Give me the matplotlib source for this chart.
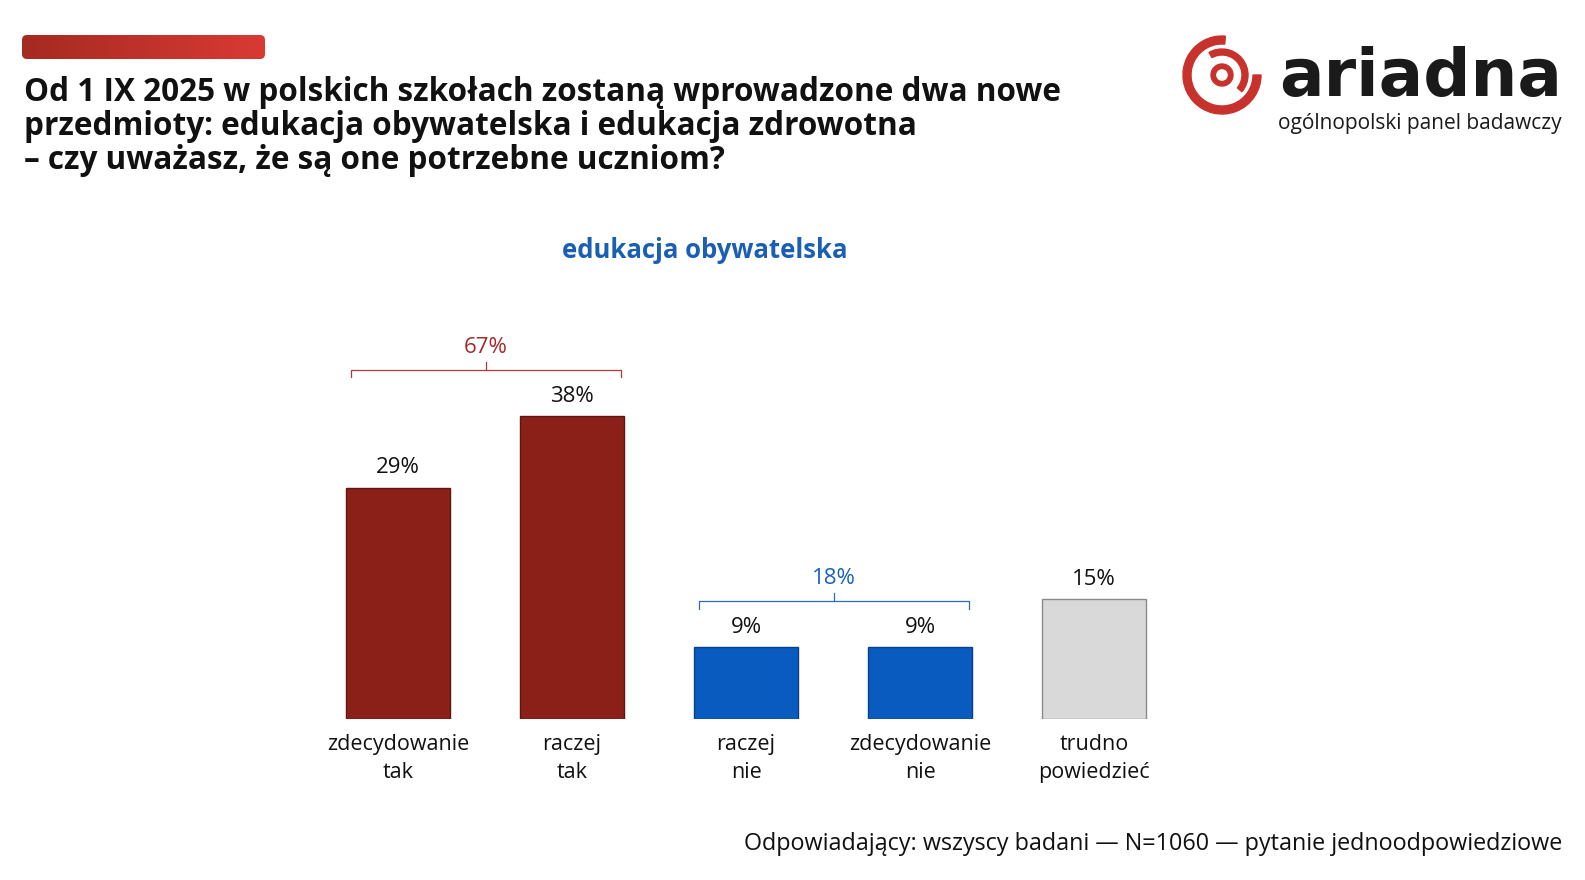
import matplotlib
matplotlib.use("Agg")
import matplotlib.pyplot as plt
import numpy as np
from matplotlib.patches import FancyBboxPatch, Wedge
from matplotlib.colors import LinearSegmentedColormap

# ---- data ----
categories = ["zdecydowanie\ntak", "raczej\ntak", "raczej\nnie", "zdecydowanie\nnie", "trudno\npowiedzieć"]
values = [29, 38, 9, 9, 15]
groups = ["yes", "yes", "no", "no", "dk"]
group_totals = {"yes": 67, "no": 18}
title = ("Od 1 IX 2025 w polskich szkołach zostaną wprowadzone dwa nowe\n"
         "przedmioty: edukacja obywatelska i edukacja zdrowotna\n"
         "– czy uważasz, że są one potrzebne uczniom?")
subtitle = "edukacja obywatelska"
footer = "Odpowiadający: wszyscy badani — N=1060 — pytanie jednoodpowiedziowe"

RED = "#8b2019"
BLUE = "#0a5bbf"
GRAY = "#d9d9d9"
colors = {"yes": RED, "no": BLUE, "dk": GRAY}
edges = {"yes": "#5e140f", "no": "#0a3f85", "dk": "#8a8a8a"}
bracket_col = {"yes": "#b03a3a", "no": "#2a6cc4"}
total_col = {"yes": "#a52a2a", "no": "#1a62c0"}

W, H = 1585, 880
fig = plt.figure(figsize=(W / 100, H / 100), dpi=100)
BODY = ["Open Sans", "DejaVu Sans"]
TITLEF = ["Open Sans", "DejaVu Sans"]

def fx(px):
    return px / W

def fy(py):
    return 1 - py / H

# ---- main axes ----
left_px, right_px = 311, 1181
base_px, top_px = 719, 320.5
ax = fig.add_axes([fx(left_px), fy(base_px), fx(right_px - left_px), (base_px - top_px) / H])
ax.set_xlim(-0.5, 4.5)
ax.set_ylim(0, 50)
ax.axis("off")

for i, (v, g) in enumerate(zip(values, groups)):
    ax.bar(i, v, width=0.603, color=colors[g], edgecolor=edges[g], linewidth=1.0)
    ax.text(i, v + 2.5, f"{v}%", ha="center", va="center", fontsize=16, family=BODY, color="#111111")
    ax.annotate(categories[i], xy=(i, 0), xytext=(0, -11), textcoords="offset points",
                ha="center", va="top", fontsize=15.5, family=BODY, color="#111111",
                linespacing=1.4, annotation_clip=False)

# brackets
for g, tot in group_totals.items():
    idx = [i for i, gg in enumerate(groups) if gg == g]
    x0, x1 = min(idx) - 0.27, max(idx) + 0.28
    top = max(values[i] for i in idx)
    yl = top + 5.85
    xm = (x0 + x1) / 2
    c = bracket_col[g]
    ax.plot([x0, x0, x1, x1], [yl - 1.0, yl, yl, yl - 1.0], color=c, lw=0.9, solid_joinstyle="round", clip_on=False)
    ax.plot([xm, xm], [yl, yl + 0.9], color=c, lw=0.9, clip_on=False)
    ax.text(xm, yl + 2.8, f"{tot}%", ha="center", va="center", fontsize=16, family=BODY, color=total_col[g])

# ---- title and decorations ----
bg = fig.add_axes([0, 0, 1, 1], zorder=-1)
bg.set_xlim(0, W)
bg.set_ylim(H, 0)
bg.axis("off")

grad = np.linspace(0, 1, 256).reshape(1, -1)
cmap = LinearSegmentedColormap.from_list("g", ["#a52a22", "#d93a33"])
im = bg.imshow(grad, extent=[22, 265, 59, 35], cmap=cmap, aspect="auto", zorder=1)
clip = FancyBboxPatch((22, 35), 243, 24, boxstyle="round,pad=0,rounding_size=5",
                      transform=bg.transData, facecolor="none", edgecolor="none")
bg.add_patch(clip)
im.set_clip_path(clip)

fig.text(fx(24), fy(76), title, ha="left", va="top", fontsize=22.7, fontweight="bold",
         family=TITLEF, color="#111111", linespacing=1.04)

fig.text(fx(705), fy(250), subtitle, ha="center", va="center", fontsize=18.5, fontweight="bold",
         family=BODY, color="#1a5fb4")

fig.text(fx(1562), fy(844), footer, ha="right", va="center", fontsize=16.8, family=BODY, color="#111111")

# ---- logo (y axis inverted: angles mirrored) ----
LR = "#c8322d"
cx, cy = 1222, 75
bg.add_patch(Wedge((cx, cy), 39, 0, 275, width=8, color=LR, zorder=2))
bg.add_patch(Wedge((cx, cy), 26, -120, 40, width=6, color=LR, zorder=2))
bg.add_patch(Wedge((cx, cy), 11, 0, 360, width=4.5, color=LR, zorder=2))
fig.text(fx(1562), fy(96), "ariadna", ha="right", va="baseline", fontsize=47.5, fontweight="bold",
         family=["DejaVu Sans"], color="#1a1a1a")
fig.text(fx(1562), fy(124), "ogólnopolski panel badawczy", ha="right", va="center", fontsize=15,
         family=BODY, color="#1a1a1a")

fig.savefig("out.png", dpi=100)
